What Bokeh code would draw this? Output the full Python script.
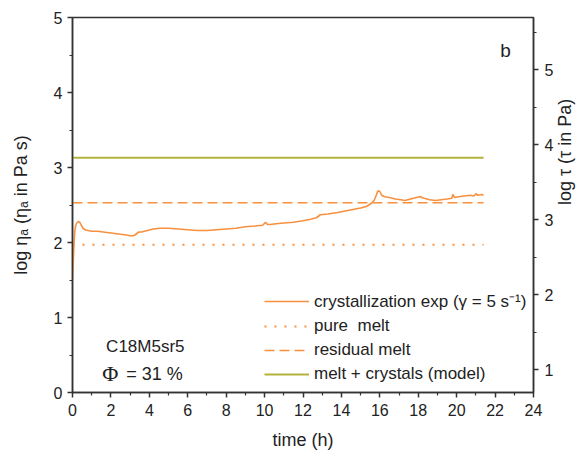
import math
from bokeh.plotting import figure
from bokeh.models import (Range1d, LinearAxis, Label, Legend, LegendItem,
                          FixedTicker, ColumnDataSource)
from bokeh.embed import file_html
from bokeh.resources import INLINE

# ---- data ----
time_h = [0.0, 0.04, 0.08, 0.12, 0.16, 0.22, 0.3, 0.38, 0.46, 0.55, 0.65, 0.8,
          1.0, 1.3, 1.6, 1.9, 2.2, 2.5, 2.8, 3.0, 3.15, 3.25, 3.35, 3.45, 3.6,
          3.9, 4.2, 4.6, 5.0, 5.5, 6.0, 6.5, 7.0, 7.5, 8.0, 8.5, 9.0, 9.5,
          9.9, 10.05, 10.15, 10.3, 10.6, 11.0, 11.5, 12.0, 12.4, 12.7, 12.9,
          13.3, 13.8, 14.2, 14.6, 15.0, 15.3, 15.55, 15.7, 15.8, 15.9, 16.0,
          16.1, 16.25, 16.5, 16.8, 17.1, 17.3, 17.6, 17.9, 18.1, 18.3, 18.6,
          18.9, 19.2, 19.5, 19.75, 19.8, 19.9, 20.1, 20.4, 20.7, 20.9, 21.0,
          21.1, 21.3, 21.4]
log_eta = [1.49, 1.75, 2.0, 2.15, 2.22, 2.26, 2.28, 2.27, 2.23, 2.19, 2.17, 2.16,
           2.15, 2.15, 2.14, 2.13, 2.12, 2.11, 2.1, 2.09, 2.09, 2.1, 2.12, 2.14, 2.14,
           2.16, 2.18, 2.19, 2.19, 2.18, 2.17, 2.16, 2.16, 2.17, 2.18, 2.19, 2.21, 2.22,
           2.23, 2.27, 2.24, 2.24, 2.25, 2.26, 2.27, 2.29, 2.31, 2.33, 2.37,
           2.38, 2.4, 2.42, 2.44, 2.46, 2.48, 2.52, 2.56, 2.62, 2.69, 2.68,
           2.63, 2.61, 2.6, 2.58, 2.57, 2.56, 2.58, 2.6, 2.61, 2.59, 2.57,
           2.56, 2.57, 2.58, 2.59, 2.64, 2.6, 2.61, 2.62, 2.63, 2.62, 2.65,
           2.63, 2.64, 2.63]
model_t = [0.0, 21.4]
pure_melt = [1.97, 1.97]
residual_melt = [2.53, 2.53]
melt_crystals = [3.13, 3.13]
log_gamma = 0.699  # log10(5 s^-1): log tau = log eta + log gamma

x_ticks = [0, 2, 4, 6, 8, 10, 12, 14, 16, 18, 20, 22, 24]
y_ticks = [0, 1, 2, 3, 4, 5]
tau_ticks = [1, 2, 3, 4, 5]

ORANGE = "#f7903f"
OLIVE = "#b5b23c"
AX = "#333333"
TXT = "#222222"
FONT = "Liberation Sans"

p = figure(width=588, height=456, output_backend="svg", toolbar_location=None,
           x_range=Range1d(0, 24), y_range=Range1d(0, 5),
           min_border_left=72, min_border_right=50, min_border_top=17,
           min_border_bottom=64)
p.xgrid.visible = False
p.ygrid.visible = False
p.background_fill_color = "white"
p.border_fill_color = "white"
p.outline_line_color = AX
p.outline_line_width = 1.5

p.extra_y_ranges = {"tau": Range1d(log_gamma, 5 + log_gamma)}

src = ColumnDataSource(dict(t=time_h, v=log_eta))
r_exp = p.line("t", "v", source=src, line_color=ORANGE, line_width=1.6)
r_pure = p.line(model_t, pure_melt, line_color=ORANGE, line_width=1.8,
                line_dash="2 8")
r_res = p.line(model_t, residual_melt, line_color=ORANGE, line_width=1.6,
               line_dash="10 5")
r_mc = p.line(model_t, melt_crystals, line_color=OLIVE, line_width=1.8)


def style(ax, ticks, minor):
    ax.ticker = FixedTicker(ticks=ticks, minor_ticks=minor)
    ax.axis_line_color = AX
    ax.axis_line_width = 1.5
    ax.major_tick_line_color = AX
    ax.major_tick_line_width = 1.5
    ax.minor_tick_line_color = AX
    ax.minor_tick_line_width = 1.2
    ax.major_tick_in = 0
    ax.major_tick_out = 5
    ax.minor_tick_in = 0
    ax.minor_tick_out = 3
    ax.major_label_text_font = FONT
    ax.major_label_text_font_size = "16px"
    ax.major_label_text_color = TXT
    ax.axis_label_text_font = FONT
    ax.axis_label_text_font_size = "18px"
    ax.axis_label_text_font_style = "normal"
    ax.axis_label_text_color = TXT


xa = p.xaxis[0]
style(xa, x_ticks, [i + 1 for i in range(0, 24, 2)])
xa.axis_label = "time (h)"
xa.major_label_standoff = 6
xa.axis_label_standoff = 11

ya = p.yaxis[0]
style(ya, y_ticks, [0.5, 1.5, 2.5, 3.5, 4.5])
ya.axis_label = "log ηₐ (ηₐ in Pa s)"
ya.major_label_standoff = 5
ya.axis_label_standoff = 20

ra = LinearAxis(y_range_name="tau")
style(ra, tau_ticks, [1.5, 2.5, 3.5, 4.5, 5.5])
ra.axis_label = "log τ (τ in Pa)"
ra.axis_label_orientation = math.pi / 2
ra.major_label_standoff = 6
ra.axis_label_standoff = 9
p.add_layout(ra, "right")

legend = Legend(items=[
    LegendItem(label="crystallization exp (γ = 5 s⁻¹)", renderers=[r_exp]),
    LegendItem(label="pure  melt", renderers=[r_pure]),
    LegendItem(label="residual melt", renderers=[r_res]),
    LegendItem(label="melt + crystals (model)", renderers=[r_mc]),
], location=(192, 8))
legend.background_fill_alpha = 0
legend.border_line_alpha = 0
legend.padding = 0
legend.margin = 0
legend.spacing = 4
legend.glyph_width = 45
legend.glyph_height = 20
legend.label_height = 20
legend.label_standoff = 5
legend.label_text_font = FONT
legend.label_text_font_size = "17px"
legend.label_text_color = TXT
p.add_layout(legend, "center")

p.add_layout(Label(x=22.55, y=4.56, text="b", text_font=FONT,
                   text_font_size="19px", text_color=TXT,
                   text_align="center", text_baseline="middle"))
p.add_layout(Label(x=1.75, y=0.61, text="C18M5sr5", text_font=FONT,
                   text_font_size="17px", text_color=TXT,
                   text_baseline="middle"))
p.add_layout(Label(x=1.55, y=0.25, text="Φ", text_font="Liberation Serif",
                   text_font_size="22px", text_color=TXT,
                   text_baseline="middle"))
p.add_layout(Label(x=2.8, y=0.25, text="= 31 %", text_font=FONT,
                   text_font_size="18px", text_color=TXT,
                   text_baseline="middle"))

open("out.html", "w").write(file_html(p, INLINE))
